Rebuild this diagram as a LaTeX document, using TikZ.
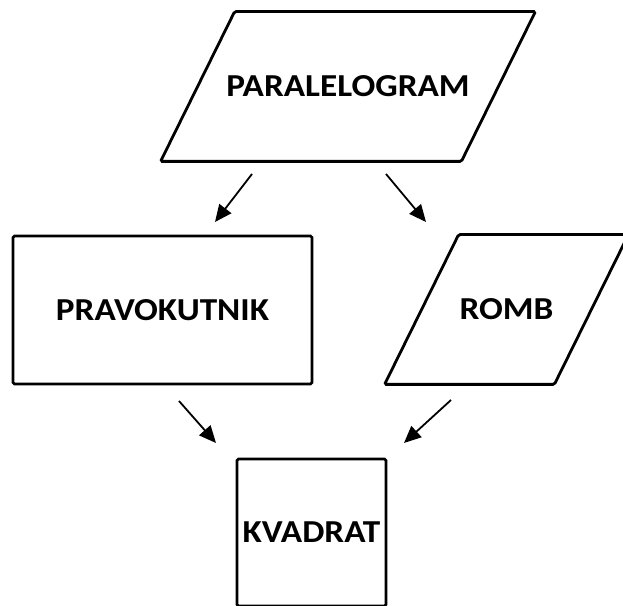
\documentclass[tikz,border=0pt]{standalone}
\usepackage{fontspec}
\setmainfont{Carlito}[FakeStretch = 1.1]
\usetikzlibrary{arrows.meta}

\begin{document}
\begin{tikzpicture}[x = 1pt, y = 1pt]
\tikzstyle{LineStyle}=[line width = 2.8pt, rounded corners = 1.5pt]
\tikzstyle{BoxStyle}=[LineStyle, rectangle,
                      font = \fontsize{32}{38}\selectfont\bfseries,
                      inner sep = 0pt]
\tikzstyle{post}=[line width = 1.8pt, -{Triangle[length = 17pt, width = 15pt]}]
\clip (0, 0) rectangle (623, 605);
\node[BoxStyle, minimum width = 298pt, minimum height = 147pt] (para) at (348, 518.5) {PARALELOGRAM};
\node[BoxStyle, draw, minimum width = 299pt, minimum height = 148pt] (prav) at (162.5, 295) {PRAVOKUTNIK};
\node[BoxStyle, minimum width = 167pt, minimum height = 147pt] (romb) at (506.5, 295.5) {ROMB};
\node[BoxStyle, draw, minimum width = 149pt, minimum height = 147pt] (kvad) at (311.5, 72.5) {KVADRAT};
% slanted outlines
\foreach \n in {para, romb}
  \draw[LineStyle] ([xshift = 37pt]\n.north west) -- ([xshift = 37pt]\n.north east)
    -- ([xshift = -37pt]\n.south east) -- ([xshift = -37pt]\n.south west) -- cycle;
\coordinate (pa1) at (252, 431);
\coordinate (pa2) at (215, 383);
\coordinate (pb1) at (386, 431);
\coordinate (pb2) at (426, 383);
\coordinate (pc1) at (179, 204);
\coordinate (pc2) at (216, 162);
\coordinate (pd1) at (451, 205);
\coordinate (pd2) at (404, 162);
\draw[post] (pa1) -- (pa2);
\draw[post] (pb1) -- (pb2);
\draw[post] (pc1) -- (pc2);
\draw[post] (pd1) -- (pd2);
\end{tikzpicture}
\end{document}
